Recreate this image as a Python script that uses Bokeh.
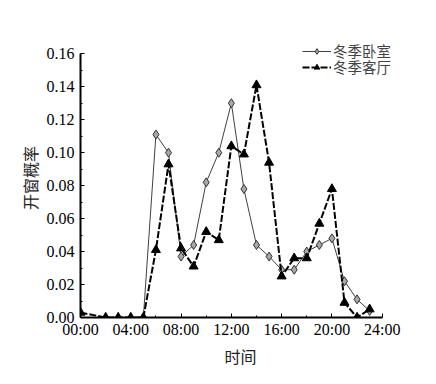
from bokeh.plotting import figure
from bokeh.models import FixedTicker, Legend, LegendItem, CustomJSTickFormatter
from bokeh.embed import file_html
from bokeh.resources import INLINE

# data
bed_hours = [5, 6, 7, 8, 9, 10, 11, 12, 13, 14, 15, 16, 17, 18, 19, 20, 21, 22, 23]
bed_prob = [0.0, 0.111, 0.100, 0.037, 0.044, 0.082, 0.100, 0.130, 0.078, 0.044,
            0.037, 0.029, 0.029, 0.040, 0.044, 0.048, 0.022, 0.011, 0.004]
liv_hours = [0, 2, 3, 4, 5, 6, 7, 8, 9, 10, 11, 12, 13, 14, 15, 16, 17, 18, 19, 20, 21, 22, 23]
liv_prob = [0.003, 0.0, 0.0, 0.0, 0.0, 0.041, 0.093, 0.042, 0.031, 0.052, 0.047, 0.104,
            0.099, 0.141, 0.094, 0.025, 0.036, 0.036, 0.057, 0.078, 0.009, 0.0, 0.005]
x_ticks = [0, 4, 8, 12, 16, 20, 24]
x_labels = ["00:00", "04:00", "08:00", "12:00", "16:00", "20:00", "24:00"]
y_ticks = [0.0, 0.02, 0.04, 0.06, 0.08, 0.10, 0.12, 0.14, 0.16]
series_names = ["冬季卧室", "冬季客厅"]

CJK = "Noto Sans CJK SC"
SERIF = "Liberation Serif"

# frame: left 80, right 400 (320 px); axis 0..24 spans 301.7 px
# frame: top 38, bottom 317 (279 px); axis 0..0.16 spans 263.7 px
X_END = 24 * 320 / 301.7
Y_END = 0.16 * 279 / 263.7

p = figure(width=436, height=384, output_backend="svg", toolbar_location=None,
           x_range=(0, X_END), y_range=(0, Y_END),
           min_border_left=80, min_border_right=36, min_border_top=38, min_border_bottom=67)
p.outline_line_color = None
p.xgrid.visible = False
p.ygrid.visible = False
p.background_fill_color = "white"

r1l = p.line(bed_hours, bed_prob, line_color="#404040", line_width=1)
r1m = p.scatter(bed_hours, bed_prob, marker="diamond", size=9, fill_color="#a8a8a8",
                line_color="#303030", line_width=1)
r2l = p.line(liv_hours, liv_prob, line_color="black", line_width=2, line_dash="7 2")
r2m = p.scatter(liv_hours, liv_prob, marker="triangle", size=9, fill_color="black",
                line_color="black")

for ax in (p.xaxis, p.yaxis):
    ax.axis_line_width = 2
    ax.axis_line_color = "black"
    ax.major_tick_in = 4
    ax.major_tick_out = 0
    ax.minor_tick_in = 2
    ax.minor_tick_out = 0
    ax.major_label_text_font = SERIF
    ax.major_label_text_font_size = "16px"
    ax.major_label_text_color = "black"
    ax.axis_label_text_font = CJK
    ax.axis_label_text_font_size = "16px"
    ax.axis_label_text_font_style = "normal"
    ax.axis_label_text_color = "#222222"

p.xaxis.bounds = (0, 24)
p.xaxis.ticker = FixedTicker(ticks=x_ticks, minor_ticks=[2, 6, 10, 14, 18, 22])
p.xaxis.major_label_overrides = {t: l for t, l in zip(x_ticks, x_labels)}
p.xaxis.major_label_standoff = 3
p.xaxis.axis_label = "时间"
p.xaxis.axis_label_standoff = 3

p.yaxis.bounds = (0, 0.16)
p.yaxis.ticker = FixedTicker(ticks=y_ticks, minor_ticks=[0.01, 0.03, 0.05, 0.07, 0.09, 0.11, 0.13, 0.15])
p.yaxis.formatter = CustomJSTickFormatter(code="return tick.toFixed(2);")
p.yaxis.major_label_standoff = 6
p.yaxis.axis_label = "开窗概率"
p.yaxis.axis_label_standoff = 2

legend_style = dict(border_line_color=None, background_fill_alpha=0,
                    label_text_font=CJK, label_text_font_size="14.5px",
                    label_text_line_height=0.8,
                    glyph_width=29, glyph_height=14, label_standoff=2, spacing=0,
                    padding=0, margin=0, label_height=14)
legend1 = Legend(items=[LegendItem(label=series_names[0], renderers=[r1l, r1m])],
                 location=(222, 256), **legend_style)
legend2 = Legend(items=[LegendItem(label=series_names[1], renderers=[r2l, r2m])],
                 location=(222, 240), **legend_style)
p.add_layout(legend1, "center")
p.add_layout(legend2, "center")

open("out.html", "w").write(file_html(p, INLINE))
